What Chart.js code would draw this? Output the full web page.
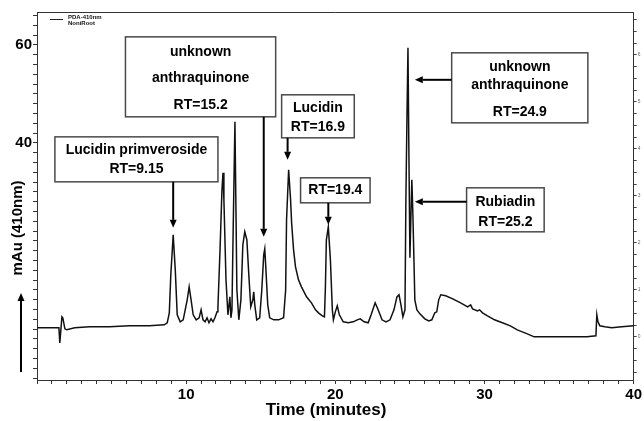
<!DOCTYPE html>
<html>
<head>
<meta charset="utf-8">
<script src="https://cdn.jsdelivr.net/npm/chart.js@4/dist/chart.umd.min.js"></script>
<style>
  html, body { margin: 0; padding: 0; background: #fff; }
  #wrap { width: 644px; height: 421px; }
</style>
</head>
<body>
<div id="wrap"><canvas id="c" width="644" height="421"></canvas></div>
<script>
// ---- data ----
const times = [0, 0.53, 1.2, 1.47, 1.53, 1.6, 1.67, 1.73, 1.87, 2.0,
  2.53, 3.53, 4.87, 6.2, 7.53, 8.53, 8.73, 8.87, 8.97, 9.13,
  9.27, 9.4, 9.6, 9.8, 10.07, 10.2, 10.33, 10.47, 10.67, 10.87,
  11.0, 11.13, 11.27, 11.4, 11.53, 11.67, 11.8, 11.93, 12.07, 12.13,
  12.27, 12.4, 12.47, 12.53, 12.67, 12.8, 12.93, 13.0, 13.07, 13.13,
  13.27, 13.33, 13.4, 13.53, 13.67, 13.8, 13.93, 14.07, 14.2, 14.33,
  14.47, 14.53, 14.6, 14.73, 14.93, 15.07, 15.2, 15.27, 15.33, 15.47,
  15.6, 15.87, 16.2, 16.53, 16.67, 16.73, 16.87, 17.0, 17.07, 17.2,
  17.33, 17.53, 17.73, 18.07, 18.4, 18.67, 18.87, 19.13, 19.27, 19.33,
  19.4, 19.53, 19.67, 19.8, 19.87, 20.0, 20.13, 20.27, 20.53, 20.87,
  21.2, 21.47, 21.67, 21.93, 22.2, 22.4, 22.67, 22.87, 23.13, 23.4,
  23.67, 23.93, 24.13, 24.27, 24.4, 24.53, 24.67, 24.73, 24.8, 24.87,
  24.93, 25.0, 25.07, 25.13, 25.2, 25.27, 25.33, 25.47, 25.67, 26.0,
  26.27, 26.47, 26.67, 26.8, 26.93, 27.07, 27.4, 27.87, 28.4, 28.87,
  29.07, 29.2, 29.53, 29.67, 29.87, 30.2, 30.67, 31.2, 31.73, 32.2,
  32.87, 33.33, 33.87, 34.87, 35.87, 36.87, 37.47, 37.53, 37.6, 37.73,
  38.07, 38.53, 39.2, 40.0];
const mAu = [2.24, 2.24, 2.24, 2.24, -0.82, 1.84, 4.49, 4.29, 2.04, 1.84,
  2.24, 2.45, 2.45, 2.65, 2.65, 2.86, 3.27, 5.31, 13.0, 21.22,
  14.08, 4.90, 3.47, 3.88, 7.96, 10.61, 7.96, 4.90, 3.88, 4.29,
  5.92, 3.88, 3.47, 4.29, 3.27, 4.08, 3.47, 4.29, 5.51, 6.53,
  18.16, 30.4, 33.88, 28.37, 12.04, 4.90, 8.57, 4.29, 5.92, 18.16,
  44.29, 28.37, 10.0, 3.88, 7.96, 19.18, 21.84, 20.20, 13.06, 6.53,
  7.96, 9.59, 6.94, 3.88, 4.29, 10.0, 17.14, 18.37, 15.10, 6.94,
  4.29, 3.88, 3.88, 4.29, 10.0, 24.29, 34.49, 28.37, 23.67, 18.16,
  14.69, 12.04, 10.61, 8.57, 7.35, 5.92, 5.31, 4.69, 4.49, 10.0,
  20.20, 22.86, 16.12, 5.92, 3.88, 5.51, 6.73, 4.90, 3.47, 3.27,
  3.47, 3.88, 4.08, 3.47, 3.27, 4.90, 7.35, 5.92, 3.88, 3.47,
  3.88, 5.92, 8.57, 8.98, 6.94, 4.49, 5.92, 28.37, 44.69, 59.39,
  38.57, 16.53, 25.31, 32.45, 25.31, 16.12, 7.96, 5.92, 5.10, 4.08,
  3.67, 3.88, 5.31, 5.51, 7.96, 8.98, 8.78, 8.16, 7.35, 6.53,
  6.94, 6.12, 5.71, 5.92, 5.31, 4.69, 3.88, 3.27, 2.65, 1.84,
  1.02, 0.41, 0.41, 0.41, 0.41, 0.41, 0.61, 4.90, 3.60, 2.65,
  2.45, 2.24, 2.45, 2.65];
const xLabelTicks = [10, 20, 30, 40];
const yLabelTicks = [40, 60];
const seriesName = 'PDA-410nm';
const sampleName = 'NoniRoot';

// ---- annotations (data units) ----
const boxes = [
  { lines: ['Lucidin primveroside', 'RT=9.15'], x0: 1.2, x1: 12.13, y0: 41.22, y1: 32.04, cx: 6.67, ly: [38.57, 34.69] },
  { lines: ['unknown', 'anthraquinone', 'RT=15.2'], x0: 5.93, x1: 16.0, y0: 61.63, y1: 45.31, cx: 10.97, ly: [58.57, 53.27, 47.76] },
  { lines: ['Lucidin', 'RT=16.9'], x0: 16.4, x1: 21.27, y0: 49.8, y1: 41.02, cx: 18.83, ly: [47.14, 43.27] },
  { lines: ['RT=19.4'], x0: 17.67, x1: 22.33, y0: 32.86, y1: 27.76, cx: 20.0, ly: [30.41] },
  { lines: ['unknown', 'anthraquinone', 'RT=24.9'], x0: 27.8, x1: 36.93, y0: 58.37, y1: 44.08, cx: 32.37, ly: [55.51, 51.84, 46.33] },
  { lines: ['Rubiadin', 'RT=25.2'], x0: 28.8, x1: 34.0, y0: 30.82, y1: 21.84, cx: 31.4, ly: [27.96, 23.88] }
];
const arrows = [
  { x0: 9.13, y0: 32.04, x1: 9.13, y1: 22.65 },
  { x0: 15.2, y0: 45.31, x1: 15.2, y1: 20.82 },
  { x0: 16.8, y0: 41.02, x1: 16.8, y1: 36.53 },
  { x0: 19.53, y0: 27.76, x1: 19.53, y1: 23.27 },
  { x0: 27.8, y0: 52.86, x1: 25.33, y1: 52.86 },
  { x0: 28.8, y0: 27.96, x1: 25.33, y1: 27.96 }
];

const FONT = '"Liberation Sans", Arial, Helvetica, sans-serif';

function drawArrow(ctx, ax, ay, bx, by) {
  const ang = Math.atan2(by - ay, bx - ax);
  const hl = 8, hw = 3.5;
  const ex = bx - hl * Math.cos(ang), ey = by - hl * Math.sin(ang);
  ctx.beginPath();
  ctx.moveTo(ax, ay);
  ctx.lineTo(ex, ey);
  ctx.stroke();
  ctx.beginPath();
  ctx.moveTo(bx, by);
  ctx.lineTo(ex + hw * Math.sin(ang), ey - hw * Math.cos(ang));
  ctx.lineTo(ex - hw * Math.sin(ang), ey + hw * Math.cos(ang));
  ctx.closePath();
  ctx.fill();
}

const overlay = {
  id: 'overlay',
  afterDraw(chart) {
    const { ctx, chartArea: a } = chart;
    const x = chart.scales.x, y = chart.scales.y;
    ctx.save();
    // top frame line
    ctx.strokeStyle = '#333';
    ctx.lineWidth = 1;
    ctx.beginPath();
    ctx.moveTo(a.left, a.top + 0.5);
    ctx.lineTo(a.right, a.top + 0.5);
    ctx.stroke();

    // small legend
    ctx.strokeStyle = '#222';
    ctx.lineWidth = 1;
    ctx.beginPath();
    ctx.moveTo(a.left + 13, a.top + 7.5);
    ctx.lineTo(a.left + 26, a.top + 7.5);
    ctx.stroke();
    ctx.fillStyle = '#111';
    ctx.font = 'bold 6px ' + FONT;
    ctx.textAlign = 'left';
    ctx.textBaseline = 'middle';
    ctx.fillText(chart.data.datasets[0].label, a.left + 31, a.top + 5);
    ctx.fillText(sampleName, a.left + 31, a.top + 11.5);

    // annotation boxes
    boxes.forEach(b => {
      const L = x.getPixelForValue(b.x0), R = x.getPixelForValue(b.x1);
      const T = y.getPixelForValue(b.y0), B = y.getPixelForValue(b.y1);
      ctx.fillStyle = '#fff';
      ctx.fillRect(L, T, R - L, B - T);
      ctx.strokeStyle = '#4a4a4a';
      ctx.lineWidth = 1.5;
      ctx.strokeRect(L, T, R - L, B - T);
      ctx.fillStyle = '#000';
      ctx.font = 'bold 14px ' + FONT;
      ctx.textAlign = 'center';
      ctx.textBaseline = 'middle';
      b.lines.forEach((s, i) => ctx.fillText(s, x.getPixelForValue(b.cx), y.getPixelForValue(b.ly[i])));
    });
    // arrows
    ctx.strokeStyle = '#000';
    ctx.fillStyle = '#000';
    ctx.lineWidth = 2;
    arrows.forEach(r => drawArrow(ctx,
      x.getPixelForValue(r.x0), y.getPixelForValue(r.y0),
      x.getPixelForValue(r.x1), y.getPixelForValue(r.y1)));

    // x axis title
    ctx.font = 'bold 17px ' + FONT;
    ctx.fillStyle = '#000';
    ctx.textAlign = 'center';
    ctx.textBaseline = 'middle';
    ctx.fillText('Time (minutes)', a.left + 289, a.bottom + 30);

    // y axis title with upward arrow
    ctx.save();
    ctx.translate(a.left - 19, a.top + 216);
    ctx.rotate(-Math.PI / 2);
    ctx.font = 'bold 15px ' + FONT;
    ctx.fillStyle = '#000';
    ctx.textAlign = 'center';
    ctx.textBaseline = 'middle';
    ctx.fillText('mAu (410nm)', 0, 0);
    ctx.restore();
    ctx.lineWidth = 2;
    drawArrow(ctx, a.left - 16, a.top + 360, a.left - 16, a.top + 281);
    ctx.restore();
  }
};

function intTicks(from, to, step) {
  const out = [];
  for (let v = from; v <= to + 1e-9; v += step) out.push({ value: Math.round(v * 1000) / 1000 });
  return out;
}

new Chart(document.getElementById('c'), {
  type: 'line',
  data: {
    datasets: [{
      label: seriesName,
      data: times.map((t, i) => ({ x: t, y: mAu[i] })),
      borderColor: '#111',
      borderWidth: 1.5,
      pointRadius: 0,
      tension: 0,
      fill: false
    }]
  },
  options: {
    responsive: false,
    animation: false,
    events: [],
    layout: { padding: { top: 12, left: 0, right: 0, bottom: 0 } },
    plugins: { legend: { display: false }, tooltip: { enabled: false } },
    scales: {
      x: {
        type: 'linear',
        position: 'bottom',
        min: 0, max: 40,
        afterBuildTicks: s => { s.ticks = intTicks(0, 40, 1); },
        afterFit: s => { s.height = 41; },
        ticks: {
          autoSkip: false, maxRotation: 0, padding: 2,
          color: '#000',
          font: { family: FONT, size: 15, weight: 'bold' },
          callback: v => xLabelTicks.includes(v) ? String(v) : ''
        },
        grid: { drawOnChartArea: false, tickLength: 4, color: '#333' },
        border: { color: '#333', width: 1 }
      },
      y: {
        type: 'linear',
        position: 'left',
        min: -8.4, max: 66.7,
        afterBuildTicks: s => { s.ticks = intTicks(-8, 66, 2); },
        afterFit: s => { s.width = 37; },
        ticks: {
          autoSkip: false, padding: 1,
          color: '#000',
          font: { family: FONT, size: 15, weight: 'bold' },
          callback: v => yLabelTicks.includes(v) ? String(v) : ''
        },
        grid: { drawOnChartArea: false, tickLength: 4, color: '#333' },
        border: { color: '#333', width: 1 }
      },
      y2: {
        type: 'linear',
        position: 'right',
        min: -0.915, max: 6.91,
        afterBuildTicks: s => { s.ticks = intTicks(-0.75, 6.75, 0.25); },
        afterFit: s => { s.width = 7; },
        ticks: {
          autoSkip: false, padding: 1,
          color: '#666',
          font: { family: FONT, size: 5 },
          callback: v => Number.isInteger(v) ? String(v) : ''
        },
        grid: { drawOnChartArea: false, tickLength: 3, color: '#444' },
        border: { color: '#333', width: 1 }
      }
    }
  },
  plugins: [overlay]
});
</script>
</body>
</html>
